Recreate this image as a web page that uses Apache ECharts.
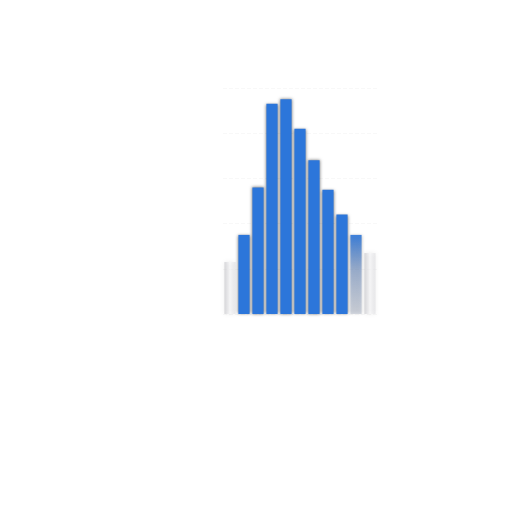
<!DOCTYPE html>
<html>
<head>
<meta charset="utf-8">
<script src="https://cdn.jsdelivr.net/npm/echarts@6/dist/echarts.min.js"></script>
<style>
html, body { margin: 0; padding: 0; background: #fff; }
#chart { width: 512px; height: 512px; filter: blur(0.5px); }
</style>
</head>
<body>
<div id="chart"></div>
<script>
var categories = ['1', '2', '3', '4', '5', '6', '7', '8', '9', '10', '11'];
var values = [23, 35, 56, 93, 95, 82, 68, 55, 44, 35, 27];
var yTicks = [0, 20, 40, 60, 80, 100];

var chart = echarts.init(document.getElementById('chart'));

var blue = '#2c76da';
var last = values.length - 1;

// edge bars are washed out, the one before the last fades downwards
function styleFor(i) {
    if (i === 0 || i === last) {
        return {
            color: new echarts.graphic.LinearGradient(0, 0, 1, 0, [
                { offset: 0, color: 'rgba(190,190,195,0.55)' },
                { offset: 0.5, color: 'rgba(250,250,252,0.6)' },
                { offset: 1, color: 'rgba(215,215,220,0.45)' }
            ]),
            shadowColor: 'rgba(0,0,0,0.12)',
            shadowBlur: 4
        };
    }
    if (i === last - 1) {
        return {
            color: new echarts.graphic.LinearGradient(0, 0, 0, 1, [
                { offset: 0, color: 'rgba(44,118,218,0.9)' },
                { offset: 0.45, color: 'rgba(100,135,190,0.55)' },
                { offset: 1, color: 'rgba(160,170,190,0.4)' }
            ]),
            shadowColor: 'rgba(0,0,0,0.3)',
            shadowBlur: 3
        };
    }
    return {
        color: blue,
        shadowColor: 'rgba(0,0,0,0.5)',
        shadowBlur: 3
    };
}

var option = {
    animation: false,
    grid: {
        left: 223,
        right: 135,
        top: 88,
        bottom: 198
    },
    xAxis: {
        type: 'category',
        data: categories,
        axisLine: { show: false },
        axisTick: { show: false },
        axisLabel: { show: false }
    },
    yAxis: {
        type: 'value',
        min: yTicks[0],
        max: yTicks[yTicks.length - 1],
        interval: yTicks[1] - yTicks[0],
        axisLine: { show: false },
        axisLabel: { show: false },
        splitLine: {
            lineStyle: { color: 'rgba(200,200,200,0.12)', type: 'dashed' }
        }
    },
    series: [
        {
            type: 'bar',
            barCategoryGap: '20%',
            data: values.map(function (v, i) {
                return { value: v, itemStyle: styleFor(i) };
            })
        }
    ]
};

chart.setOption(option);
</script>
</body>
</html>
